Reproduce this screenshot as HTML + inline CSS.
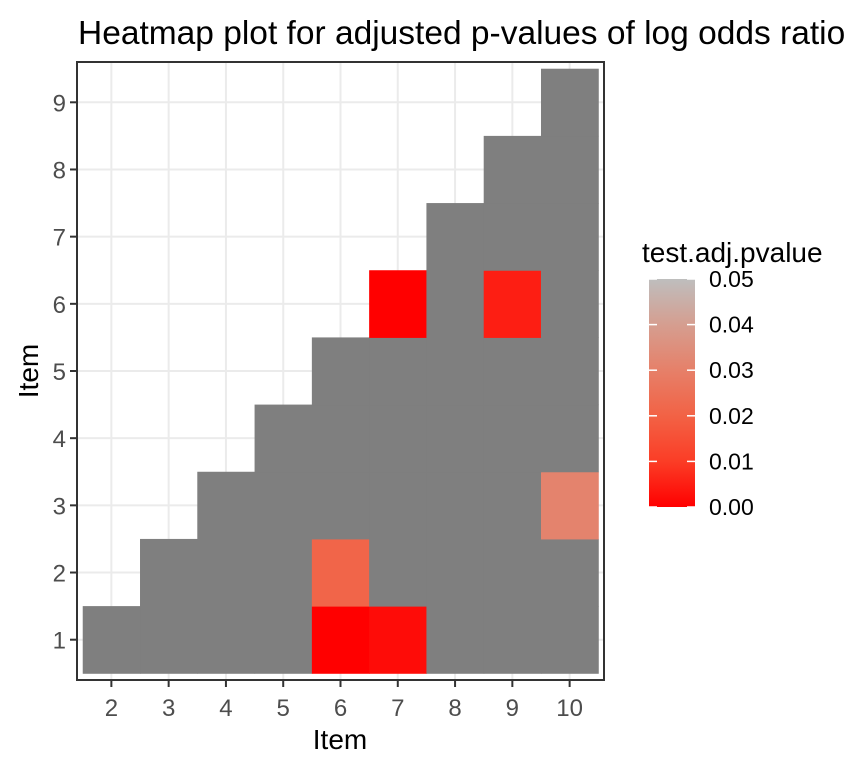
<!DOCTYPE html>
<html><head><meta charset="utf-8"><style>
body{margin:0;background:#fff;}
svg{display:block;font-family:"Liberation Sans",Arial,sans-serif;}
</style></head><body>
<svg id="chart" width="864" height="768" xmlns="http://www.w3.org/2000/svg">
<defs>
<linearGradient id="grad" x1="0" y1="1" x2="0" y2="0">
<stop offset="0" stop-color="#ff0000"/><stop offset="0.2" stop-color="#fb3d26"/><stop offset="0.4" stop-color="#f26245"/>
<stop offset="0.6" stop-color="#e68069"/><stop offset="0.8" stop-color="#d59e90"/><stop offset="1" stop-color="#bebebe"/>
</linearGradient>
</defs>
<text x="78" y="44" font-size="33.5" fill="#000">Heatmap plot for adjusted p-values of log odds ratio</text>
<g id="grid"></g><g id="cells"></g><g id="axes"></g>
<text x="340" y="749" font-size="28" fill="#000" text-anchor="middle">Item</text>
<text transform="translate(38,371) rotate(-90)" font-size="28" fill="#000" text-anchor="middle">Item</text>
<g>
<text x="642" y="262" font-size="28" fill="#000">test.adj.pvalue</text>
<rect x="649" y="279" width="46" height="228" fill="url(#grad)"/>
<g id="legticks"></g>
</g>
</svg>
<script>
const xCats=[2,3,4,5,6,7,8,9,10];
const yCats=[1,2,3,4,5,6,7,8,9];
const cellX=[2,3,4,5,6,7,8,9,10, 3,4,5,6,7,8,9,10, 4,5,6,7,8,9,10, 5,6,7,8,9,10, 6,7,8,9,10, 7,8,9,10, 8,9,10, 9,10, 10];
const cellY=[1,1,1,1,1,1,1,1,1, 2,2,2,2,2,2,2,2, 3,3,3,3,3,3,3, 4,4,4,4,4,4, 5,5,5,5,5, 6,6,6,6, 7,7,7, 8,8, 9];
const cellP=[null,null,null,null,0.0,0.002,null,null,null, null,null,null,0.021,null,null,null,null, null,null,null,null,null,null,0.031, null,null,null,null,null,null, null,null,null,null,null, 0.0,null,0.005,null, null,null,null, null,null, null];
const legVals=[0,0.01,0.02,0.03,0.04,0.05];
const legLabels=["0.00","0.01","0.02","0.03","0.04","0.05"];
const ns="http://www.w3.org/2000/svg";
const L=77,R=604,T=62,B=680;
const xs=(R-L)/(xCats.length+0.2), ys=(B-T)/(yCats.length+0.2);
function X(v){return L+(xCats.indexOf(v)+0.6)*xs;}
function Y(v){return B-(yCats.indexOf(v)+0.6)*ys;}
const stops=[[255,0,0],[251,61,38],[242,98,69],[230,128,105],[213,158,144],[190,190,190]];
function col(p){if(p===null)return "#7f7f7f";let t=Math.max(0,Math.min(1,p/0.05))*5;let i=Math.min(4,Math.floor(t)),f=t-i;
const a=stops[i],b=stops[i+1];return "rgb("+a.map((c,k)=>Math.round(c+(b[k]-c)*f)).join(",")+")";}
function mk(tag,at,parent){const e=document.createElementNS(ns,tag);for(const k in at)e.setAttribute(k,at[k]);parent.appendChild(e);return e;}
const grid=document.getElementById('grid'),cells=document.getElementById('cells'),axes=document.getElementById('axes');
mk('rect',{x:L,y:T,width:R-L,height:B-T,fill:'#fff'},grid);
xCats.forEach(v=>{const g=mk('line',{x1:X(v),x2:X(v),y1:T,y2:B,stroke:'#ebebeb','stroke-width':2},grid);

});
yCats.forEach(v=>{const g=mk('line',{x1:L,x2:R,y1:Y(v),y2:Y(v),stroke:'#ebebeb','stroke-width':2},grid);

});
cellX.forEach((x,i)=>{const r=mk('rect',{x:X(x)-xs/2,y:Y(cellY[i])-ys/2,width:xs+0.5,height:ys+0.5,fill:col(cellP[i])},cells);

});
const fr=mk('rect',{x:L,y:T,width:R-L,height:B-T,fill:'none',stroke:'#333','stroke-width':2},axes);


xCats.forEach(v=>{mk('line',{x1:X(v),x2:X(v),y1:B,y2:B+7,stroke:'#333','stroke-width':2},axes);
const t=mk('text',{x:X(v),y:B+36,'font-size':24,fill:'#4d4d4d','text-anchor':'middle'},axes);t.textContent=v;

});
yCats.forEach(v=>{mk('line',{x1:L-7,x2:L,y1:Y(v),y2:Y(v),stroke:'#333','stroke-width':2},axes);
const t=mk('text',{x:L-11,y:Y(v)+9,'font-size':24,fill:'#4d4d4d','text-anchor':'end'},axes);t.textContent=v;

});
const lt=document.getElementById('legticks');
legVals.forEach((v,i)=>{const y=507-(v/0.05)*228;
mk('line',{x1:649,x2:657,y1:y,y2:y,stroke:'#fff','stroke-width':1.5},lt);
mk('line',{x1:687,x2:695,y1:y,y2:y,stroke:'#fff','stroke-width':1.5},lt);
const t=mk('text',{x:709,y:y+8,'font-size':23,fill:'#000'},lt);t.textContent=legLabels[i];

});
</script>
</body></html>
